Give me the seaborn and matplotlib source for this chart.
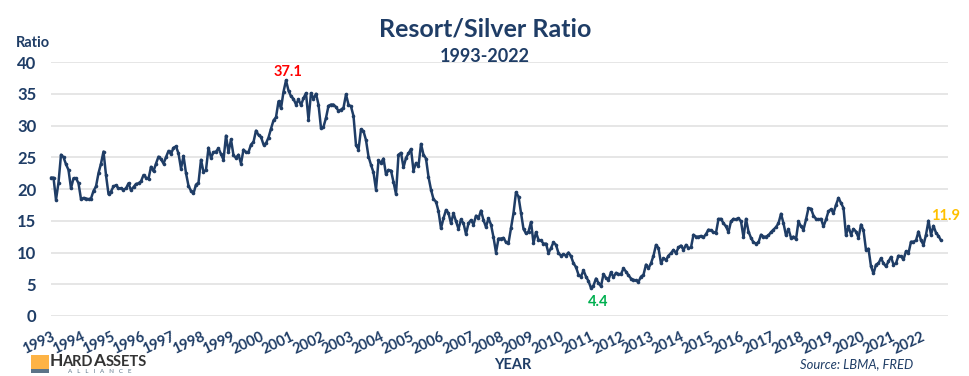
import pandas as pd
import seaborn as sns
import matplotlib.pyplot as plt
from matplotlib.patches import Rectangle
from matplotlib.transforms import ScaledTranslation

# monthly ratio
r1993 = [21.8, 21.8, 18.3, 21, 25.4, 25, 23.9, 23, 20.1, 21.7, 21.7, 20.9]
r1994 = [18.4, 18.6, 18.5, 18.4, 18.5, 19.7, 20.4, 22.5, 24, 25.9, 22.2, 19.2]
r1995 = [19.6, 20.4, 20.6, 20.1, 20.1, 19.9, 20.1, 20.9, 19.8, 20.3, 20.8, 20.9]
r1996 = [21.2, 22.2, 21.8, 21.6, 23.5, 22.8, 24, 25.1, 24.7, 24, 25, 26]
r1997 = [25.5, 26.5, 26.7, 25.6, 23.2, 25.2, 22.5, 20.5, 19.7, 19.3, 20.7, 21]
r1998 = [24.6, 22.7, 23, 26.5, 24.9, 25.8, 25.9, 26.4, 25.5, 24.6, 28.4, 25.8]
r1999 = [27.8, 25.3, 24.9, 25.4, 24, 26.2, 25.8, 25.8, 27, 27.4, 29.2, 28.5]
r2000 = [28.2, 27, 27.2, 28.1, 29.5, 30.8, 31.3, 33.8, 32.7, 35.3, 37.1, 35.5]
r2001 = [34.6, 34.2, 33.3, 34.1, 33.2, 34.3, 35.1, 30.9, 35.1, 34.2, 35, 33.3]
r2002 = [29.6, 29.8, 31.2, 33.1, 33.3, 33.3, 32.9, 32.3, 32.5, 32.8, 34.9, 33.3]
r2003 = [33, 31.5, 26.9, 26.2, 29.4, 29.1, 27.7, 25.1, 23.8, 22.6, 19.9, 24.5]
r2004 = [24.1, 24.8, 22.3, 23, 22.9, 21.1, 19.2, 25.4, 25.7, 23.4, 24.9, 25.6]
r2005 = [26.3, 22.9, 24.1, 23.6, 27.1, 25.4, 24.8, 21.9, 19.9, 18.4, 18, 16.5]
r2006 = [13.8, 15.4, 16.7, 16.2, 14.6, 16.2, 14.9, 13.7, 15.2, 14.6, 12.9, 14.6]
r2007 = [15.1, 14.4, 15.8, 15.4, 16.6, 15.1, 14, 15.4, 14.4, 12.4, 10, 12.2]
r2008 = [12.2, 12.3, 11.6, 11.5, 13.8, 16.2, 19.5, 18.8, 16.2, 13.7, 13, 13.3]
r2009 = [14.8, 11.5, 13.2, 12, 11.9, 11.4, 11.4, 9.9, 10.7, 11.6, 11.2, 9.9]
r2010 = [9.5, 9.7, 9.5, 10, 9.4, 8.3, 7.7, 6.5, 6.2, 7.2, 6.2, 5.5]
r2011 = [4.4, 4.8, 5.9, 5.2, 4.7, 6.6, 6, 5.7, 6.9, 6.1, 6.8, 6.6]
r2012 = [6.6, 7.5, 7, 6.4, 5.9, 5.7, 5.6, 5.4, 6.2, 6.5, 8.1, 7.5]
r2013 = [8.3, 9.5, 11.2, 10.7, 8.3, 9.1, 8.8, 9.5, 9.9, 10.4, 9.9, 10.8]
r2014 = [11.1, 10.4, 11.2, 10.7, 10.8, 12.8, 12.5, 12.5, 12.6, 12.4, 12.9, 13.6]
r2015 = [13.5, 13.2, 13.1, 15.3, 15.3, 14.6, 14.1, 13.2, 14.9, 15.3, 15.2, 15.4]
r2016 = [14.9, 12.4, 15.3, 13.3, 12.3, 11.6, 11.4, 11.6, 12.8, 12.5, 12.5, 12.7]
r2017 = [13.2, 13.6, 14, 14.6, 16.1, 14.6, 12.7, 13.7, 12.3, 12.5, 12.1, 14.9]
r2018 = [14.1, 13.6, 15.2, 17, 16.9, 15.8, 15.3, 15.2, 15.3, 14.1, 15.2, 16.5]
r2019 = [16.8, 16.2, 17.5, 18.6, 17.8, 17, 12.7, 14.1, 12.8, 13.7, 13.3, 12.3]
r2020 = [14.4, 13.5, 10.4, 10.6, 7.8, 6.7, 8.1, 8.3, 9.1, 8.3, 7.8, 8.6]
r2021 = [9.3, 8.1, 8.3, 9.5, 9.4, 8.9, 10.2, 9.9, 11.7, 11.7, 11.9, 13.3]
r2022 = [11.9, 11.2, 12.8, 15, 12.8, 14.2, 13.1, 12.6, 11.9]

years = list(range(1993, 2023))
by_year = [r1993, r1994, r1995, r1996, r1997, r1998, r1999, r2000, r2001, r2002,
           r2003, r2004, r2005, r2006, r2007, r2008, r2009, r2010, r2011, r2012,
           r2013, r2014, r2015, r2016, r2017, r2018, r2019, r2020, r2021, r2022]
y_ticks = [0, 5, 10, 15, 20, 25, 30, 35, 40]

NAVY = '#1F3D66'
W, H = 969, 376

ratio = [v for yr in by_year for v in yr]
df = pd.DataFrame({'month': range(len(ratio)), 'ratio': ratio})

sns.set_theme(style='white')
plt.rcParams['font.family'] = ['Lato', 'DejaVu Sans']

fig = plt.figure(figsize=(W / 100, H / 100), dpi=100)
ax = fig.add_axes([51 / W, 1 - 316 / H, (948 - 51) / W, (316 - 62) / H])

sns.lineplot(data=df, x='month', y='ratio', ax=ax, color=NAVY, linewidth=1.8,
             marker='o', markersize=2.6, markeredgewidth=0, clip_on=False)

ax.set_xlim(0, 358.8)
ax.set_ylim(0, 40)
ax.set_yticks(y_ticks)
ax.set_yticklabels(y_ticks, fontsize=12, fontweight='bold', color=NAVY)
ax.set_xticks([12 * i for i in range(len(years))])
ax.set_xticklabels(years, fontsize=10.5, fontweight='bold', color=NAVY, rotation=25,
                   ha='right', rotation_mode='anchor')
# nudge year labels 2px to the right
shift = ScaledTranslation(2 / 100, 0, fig.dpi_scale_trans)
for lab in ax.get_xticklabels():
    lab.set_transform(lab.get_transform() + shift)
ax.tick_params(axis='x', length=0, pad=10)
ax.tick_params(axis='y', length=0, pad=10.5)
ax.grid(axis='y', color='#E1E1E1', linewidth=1.2)
ax.grid(axis='x', visible=False)
ax.set_axisbelow(True)
sns.despine(ax=ax, left=True, bottom=True, top=True, right=True)
ax.set_xlabel('')
ax.set_ylabel('')

# high / low / last labels
i_max = df.ratio.idxmax()
i_min = df.ratio.idxmin()
i_end = df.index[-1]
ax.annotate(f'{df.ratio[i_max]:.1f}', (i_max, df.ratio[i_max]), xytext=(1.5, 1), textcoords='offset points',
            ha='center', va='bottom', color='#FF0000', fontsize=10.5, fontweight='bold')
ax.annotate(f'{df.ratio[i_min]:.1f}', (i_min, df.ratio[i_min]), xytext=(5, -5), textcoords='offset points',
            ha='center', va='top', color='#00B050', fontsize=10.5, fontweight='bold')
ax.annotate(f'{df.ratio[i_end]:.1f}', (i_end, df.ratio[i_end]), xytext=(3, 12.5), textcoords='offset points',
            ha='center', va='bottom', color='#FFC000', fontsize=10.5, fontweight='bold', annotation_clip=False)


def px_text(x, y, s, **kw):
    return fig.text(x / W, 1 - y / H, s, **kw)


px_text(485, 29, 'Resort/Silver Ratio', ha='center', va='center', fontsize=18, fontweight='bold', color=NAVY)
px_text(485, 57, '1993-2022', ha='center', va='center', fontsize=13, fontweight='bold', color=NAVY)
px_text(33, 43, 'Ratio', ha='center', va='center', fontsize=10.5, fontweight='bold', color=NAVY)
px_text(513, 365, 'YEAR', ha='center', va='center', fontsize=10.5, fontweight='bold', color=NAVY)
px_text(857, 364, 'Source: LBMA, FRED', ha='center', va='center', fontsize=9.4, style='italic', color=NAVY)

# logo
fig.add_artist(Rectangle((31 / W, 1 - 369 / H), 18 / W, 14 / H, transform=fig.transFigure, color='#FDB345', lw=0))
fig.add_artist(Rectangle((31 / W, 1 - 373 / H), 18 / W, 4 / H, transform=fig.transFigure, color='#5C7488', lw=0))
LOGO = '#333333'
px_text(50, 361, 'H', ha='left', va='center', fontsize=12.5, fontweight='bold', color=LOGO)
px_text(62, 362, 'ARD', ha='left', va='center', fontsize=10.5, fontweight='bold', color=LOGO)
px_text(93, 361, 'A', ha='left', va='center', fontsize=12.5, fontweight='bold', color=LOGO)
px_text(106, 362, 'SSETS', ha='left', va='center', fontsize=10.5, fontweight='bold', color=LOGO)
px_text(100, 371.5, 'A   L   L   I   A   N   C   E', ha='center', va='center', fontsize=4.5, color='#5C7488')

fig.savefig('out.png', dpi=100)
plt.close()
